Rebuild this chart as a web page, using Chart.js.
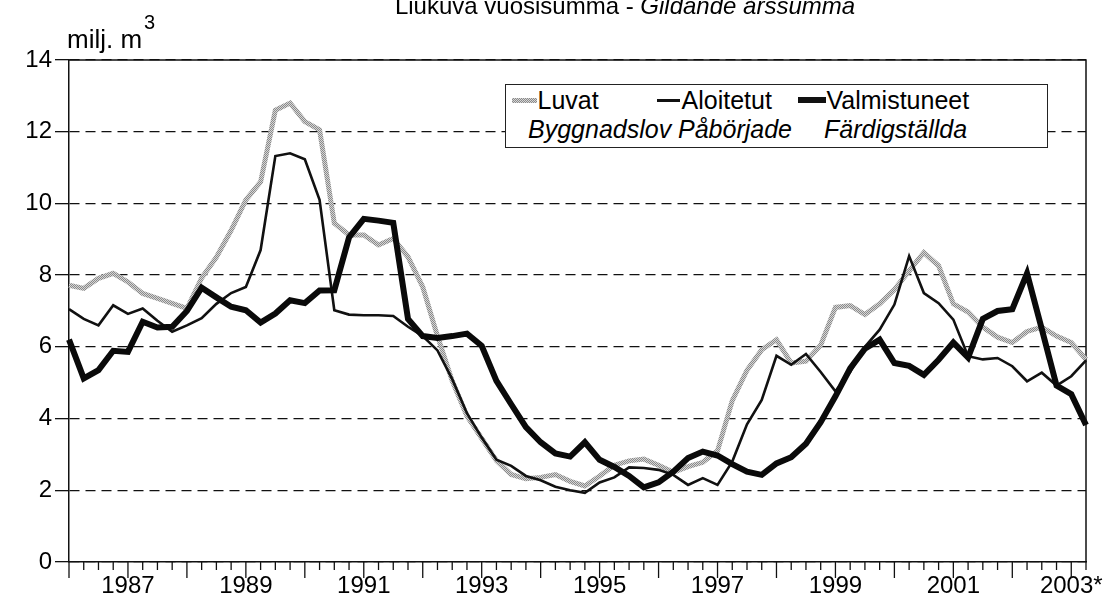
<!DOCTYPE html>
<html>
<head>
<meta charset="utf-8">
<script src="https://cdn.jsdelivr.net/npm/chart.js@4.4.1/dist/chart.umd.min.js"></script>
<style>
html,body{margin:0;padding:0;background:#fff;}
#wrap{position:relative;width:1106px;height:611px;overflow:hidden;background:#fff;font-family:'Liberation Sans',Arial,sans-serif;color:#000;}
#c{position:absolute;left:0;top:0;}
.t{position:absolute;white-space:nowrap;font-size:24px;line-height:24px;}
#legend{position:absolute;left:505px;top:84px;width:541px;height:62px;border:1.5px solid #222;background:#fff;}
#legend .t{font-size:25px;line-height:25px;}
.sw{position:absolute;}
</style>
</head>
<body>
<div id="wrap">
<canvas id="c" width="1106" height="611"></canvas>
<div class="t" style="left:625px;top:-6px;transform:translateX(-50%);">Liukuva vuosisumma - <i>Gildande årssumma</i></div>
<div class="t" style="left:67px;top:26px;font-size:26px;line-height:26px;">milj. m</div>
<div class="t" style="left:144px;top:12px;font-size:20px;line-height:20px;">3</div>
<div id="legend"></div>
</div>
<script>
const categories = [
"1986Q1","1986Q2","1986Q3","1986Q4","1987Q1","1987Q2","1987Q3","1987Q4",
"1988Q1","1988Q2","1988Q3","1988Q4","1989Q1","1989Q2","1989Q3","1989Q4",
"1990Q1","1990Q2","1990Q3","1990Q4","1991Q1","1991Q2","1991Q3","1991Q4",
"1992Q1","1992Q2","1992Q3","1992Q4","1993Q1","1993Q2","1993Q3","1993Q4",
"1994Q1","1994Q2","1994Q3","1994Q4","1995Q1","1995Q2","1995Q3","1995Q4",
"1996Q1","1996Q2","1996Q3","1996Q4","1997Q1","1997Q2","1997Q3","1997Q4",
"1998Q1","1998Q2","1998Q3","1998Q4","1999Q1","1999Q2","1999Q3","1999Q4",
"2000Q1","2000Q2","2000Q3","2000Q4","2001Q1","2001Q2","2001Q3","2001Q4",
"2002Q1","2002Q2","2002Q3","2002Q4","2003Q1","2003Q2"];

const tickLabels = ["1987","1989","1991","1993","1995","1997","1999","2001","2003*"];
const yTicks = [0,2,4,6,8,10,12,14];

const luvat = [
7.72,7.63,7.91,8.05,7.81,7.49,7.35,7.21,
7.07,7.92,8.5,9.25,10.1,10.6,12.6,12.8,
12.28,12.05,9.45,9.12,9.12,8.84,9.02,8.51,
7.67,6.3,5.05,4.07,3.45,2.83,2.44,2.32,
2.36,2.44,2.25,2.12,2.4,2.7,2.82,2.87,
2.7,2.5,2.66,2.78,3.1,4.5,5.35,5.92,
6.2,5.55,5.6,6.05,7.1,7.15,6.9,7.2,
7.6,8.12,8.63,8.26,7.2,6.97,6.55,6.27,
6.12,6.43,6.55,6.3,6.12,5.65];

const aloitetut = [
7.05,6.78,6.6,7.16,6.92,7.07,6.73,6.42,
6.6,6.8,7.2,7.5,7.67,8.7,11.32,11.4,
11.23,10.1,7.02,6.9,6.88,6.88,6.86,6.56,
6.3,5.9,5.1,4.15,3.47,2.85,2.68,2.4,
2.28,2.1,2.0,1.93,2.22,2.36,2.64,2.62,
2.57,2.43,2.15,2.34,2.15,2.8,3.84,4.52,
5.75,5.5,5.8,5.3,4.76,5.3,6.0,6.48,
7.18,8.53,7.5,7.22,6.76,5.74,5.65,5.69,
5.46,5.04,5.28,4.92,5.18,5.62];

const valmistuneet = [
6.2,5.12,5.35,5.89,5.86,6.7,6.54,6.56,
7.0,7.65,7.38,7.12,7.02,6.68,6.93,7.3,
7.22,7.57,7.58,9.05,9.57,9.52,9.46,6.78,
6.3,6.25,6.3,6.37,6.03,5.05,4.4,3.76,
3.34,3.03,2.94,3.34,2.85,2.65,2.4,2.08,
2.22,2.52,2.9,3.08,2.97,2.73,2.52,2.43,
2.75,2.92,3.3,3.9,4.62,5.4,5.95,6.2,
5.55,5.47,5.22,5.64,6.12,5.7,6.78,7.0,
7.05,8.05,6.5,4.92,4.68,3.82];

const seriesNames = [
  ["Luvat","Byggnadslov"],
  ["Aloitetut","Påbörjade"],
  ["Valmistuneet","Färdigställda"]
];

// stippled gray pattern for Luvat
function makePattern(){
  const p = document.createElement('canvas');
  p.width = 2; p.height = 2;
  const g = p.getContext('2d');
  g.fillStyle = '#d6d6d6'; g.fillRect(0,0,2,2);
  g.fillStyle = '#8a8a8a'; g.fillRect(0,0,1,1); g.fillRect(1,1,1,1);
  return g.createPattern(p,'repeat');
}
const grayPattern = makePattern();
const FONT = "'Liberation Sans', Arial, sans-serif";

// legend (HTML)
(function(){
  const lg = document.getElementById('legend');
  const items = [
    {sx:5.5, sw:25, sh:5, bg:'repeating-conic-gradient(#8a8a8a 0 25%, #d6d6d6 0 50%) 0 0/2px 2px', tx:31.5, ix:22},
    {sx:150.5, sw:23, sh:3, bg:'#111', tx:175.5, ix:172},
    {sx:291.5, sw:28, sh:6, bg:'#111', tx:320.5, ix:318}
  ];
  items.forEach((it,k)=>{
    const s = document.createElement('div');
    s.className='sw';
    s.style.left = it.sx+'px'; s.style.width = it.sw+'px';
    s.style.height = it.sh+'px'; s.style.top = (15 - it.sh/2)+'px';
    s.style.background = it.bg;
    lg.appendChild(s);
    const a = document.createElement('div');
    a.className='t'; a.style.left = it.tx+'px'; a.style.top='3px';
    a.textContent = seriesNames[k][0];
    lg.appendChild(a);
    const b = document.createElement('div');
    b.className='t'; b.style.left = it.ix+'px'; b.style.top='32px';
    b.style.fontStyle='italic';
    b.textContent = seriesNames[k][1];
    lg.appendChild(b);
  });
})();

const framePlugin = {
  id:'frame',
  beforeDatasetsDraw(chart){
    const {ctx, chartArea:a} = chart;
    const xs = chart.scales.x;
    ctx.save();
    ctx.strokeStyle = '#111';
    ctx.lineWidth = 1.5;
    ctx.beginPath();
    ctx.moveTo(a.left, a.top); ctx.lineTo(a.right, a.top); ctx.lineTo(a.right, a.bottom);
    ctx.stroke();
    // category tick marks below axis
    ctx.lineWidth = 1.3;
    for (let i = 0; i < categories.length; i++){
      const x = xs.getPixelForValue(i);
      const len = categories[i].endsWith('Q1') ? 16 : 8;
      ctx.beginPath();
      ctx.moveTo(x, a.bottom); ctx.lineTo(x, a.bottom + len);
      ctx.stroke();
    }
    ctx.restore();
  }
};

new Chart(document.getElementById('c'), {
  type:'line',
  data:{
    labels: categories,
    datasets:[
      {label:seriesNames[0][0], data:luvat, borderColor:grayPattern, borderWidth:5, pointRadius:0, tension:0, order:3},
      {label:seriesNames[1][0], data:aloitetut, borderColor:'#111', borderWidth:2.6, pointRadius:0, tension:0, order:2},
      {label:seriesNames[2][0], data:valmistuneet, borderColor:'#0a0a0a', borderWidth:6, pointRadius:0, tension:0, order:1}
    ]
  },
  options:{
    responsive:false,
    animation:false,
    layout:{padding:{left:0,right:20,top:60,bottom:0}},
    plugins:{legend:{display:false}, title:{display:false}, tooltip:{enabled:false}},
    scales:{
      x:{
        type:'category',
        offset:false,
        grid:{display:false, drawTicks:false},
        border:{display:true, color:'#111', width:1.5},
        ticks:{
          autoSkip:false, maxRotation:0, minRotation:0, padding:10,
          color:'#000', font:{family:FONT, size:24},
          callback:function(v, i){
            const c = categories[i];
            if (!c.endsWith('Q1')) return '';
            const y = c.slice(0,4);
            const f = tickLabels.find(t => t.replace('*','') === y);
            return f || '';
          }
        },
        afterFit:function(s){ s.height = 49; }
      },
      y:{
        min:0, max:14,
        grid:{color:'#111', lineWidth:1.3, drawTicks:true, tickLength:14, tickColor:'#111', tickWidth:1.3},
        border:{display:true, color:'#111', width:1.5, dash:[10,6]},
        ticks:{
          stepSize:2, padding:3, color:'#000', font:{family:FONT, size:24},
          callback:function(v){ return yTicks.includes(v) ? String(v) : ''; }
        },
        afterFit:function(s){ s.width = 69; }
      }
    }
  },
  plugins:[framePlugin]
});
</script>
</body>
</html>
